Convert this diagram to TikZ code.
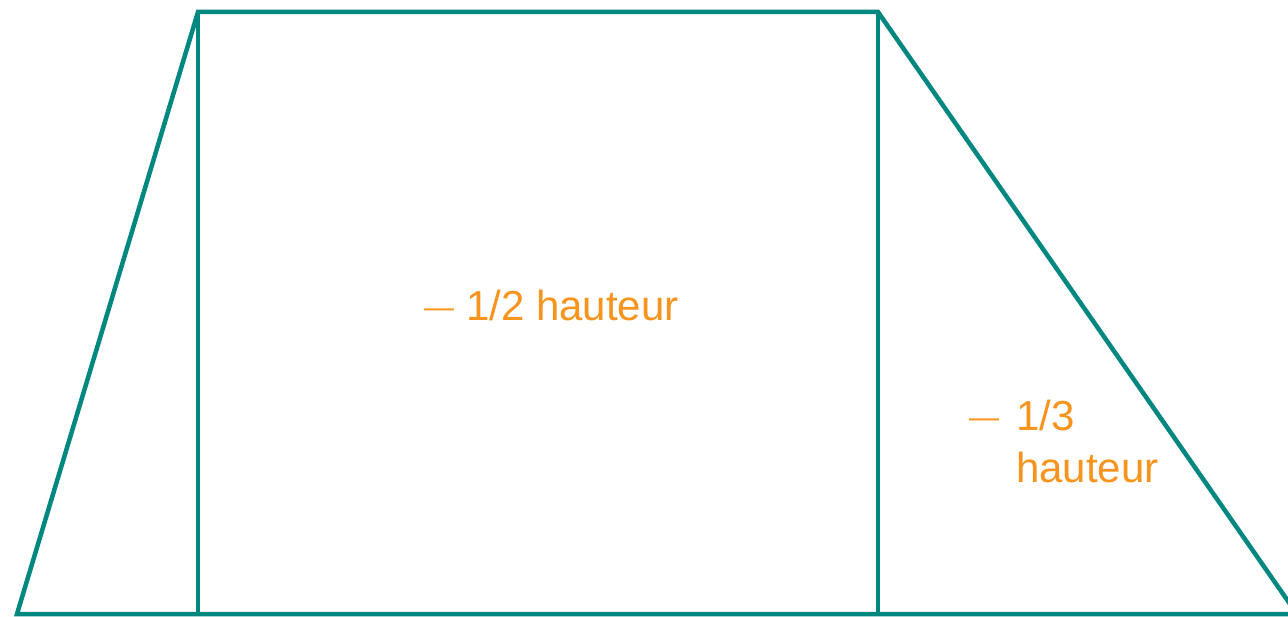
\documentclass[tikz,border=0pt]{standalone}
\usepackage{fontspec}
\setmainfont{Liberation Sans}
\definecolor{teal}{HTML}{00877F}
\definecolor{orng}{HTML}{F7941D}
\begin{document}
\begin{tikzpicture}[x=1pt,y=-1pt,
  edge/.style={draw=teal,line width=4.5pt,line join=miter},
  lbl/.style={text=orng,font=\fontsize{42}{50}\selectfont,inner sep=0pt,anchor=base west},
  dashlbl/.style={text=orng,font=\fontsize{30}{36}\selectfont,inner sep=0pt,anchor=base west}]
\useasboundingbox (0,0) rectangle (1288,617);
\clip (0,0) rectangle (1288,617);
\coordinate (bl) at (17,614);
\coordinate (tl) at (198,12);
\coordinate (tr) at (878,12);
\coordinate (br) at (1297,614);
\coordinate (ml) at (198,614);
\coordinate (mr) at (878,614);
\draw[edge] (bl) -- (tl) -- (tr) -- (br) -- cycle;
\draw[edge] (tl) -- (ml);
\draw[edge] (tr) -- (mr);
\node[dashlbl] (dash2) at (424,318) {—};
\node[lbl] (half) at (466,321) {1/2 hauteur};
\node[dashlbl] (dash3) at (969,428) {—};
\node[lbl] (third) at (1016,431) {1/3};
\node[lbl] (haut3) at (1016,482) {hauteur};
\end{tikzpicture}
\end{document}
